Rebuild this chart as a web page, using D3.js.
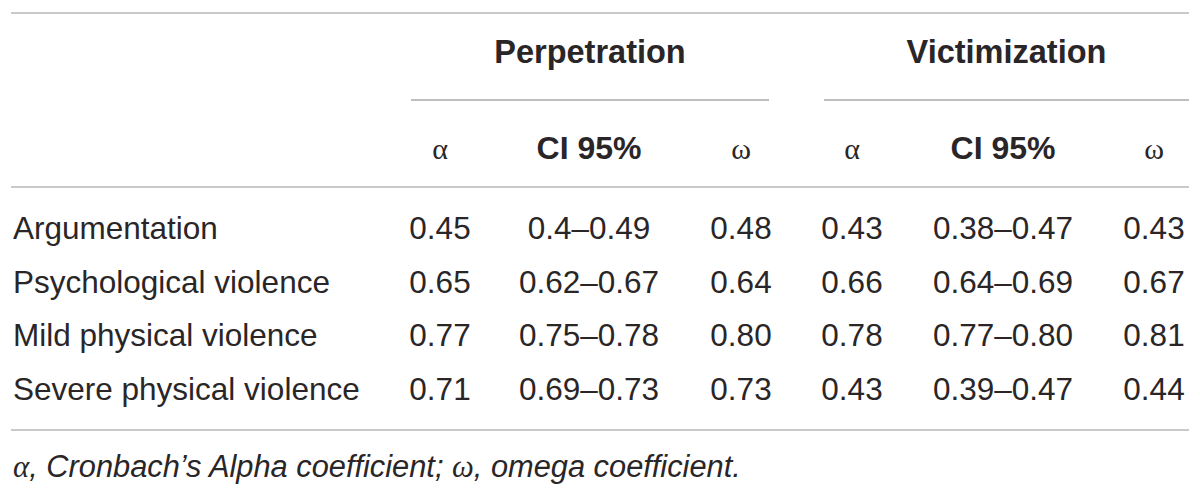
<!DOCTYPE html>
<html>
<head>
<meta charset="utf-8">
<script src="https://cdn.jsdelivr.net/npm/d3@7"></script>
<style>
  body { margin: 0; background: #fff; }
  text { font-family: "Liberation Sans", Arial, sans-serif; fill: #2a2627; }
  .greek { font-family: "Liberation Serif", "DejaVu Serif", serif; }
</style>
</head>
<body>
<div id="table"></div>
<script>
// table content
var rowLabels = ["Argumentation", "Psychological violence", "Mild physical violence", "Severe physical violence"];
var groups = ["Perpetration", "Victimization"];
var subHeads = ["α", "CI 95%", "ω", "α", "CI 95%", "ω"];
var perpAlpha = ["0.45", "0.65", "0.77", "0.71"];
var perpCI = ["0.4–0.49", "0.62–0.67", "0.75–0.78", "0.69–0.73"];
var perpOmega = ["0.48", "0.64", "0.80", "0.73"];
var victAlpha = ["0.43", "0.66", "0.78", "0.43"];
var victCI = ["0.38–0.47", "0.64–0.69", "0.77–0.80", "0.39–0.47"];
var victOmega = ["0.43", "0.67", "0.81", "0.44"];
var footnote = [["α", true], [", Cronbach’s Alpha coefficient; ", false], ["ω", true], [", omega coefficient.", false]];

var svgWidth = 1200;
var svgHeight = 493;
var fontSize = 31.5;

var svg = d3.select("#table")
  .append("svg")
  .attr("width", svgWidth)
  .attr("height", svgHeight);

var columns = [perpAlpha, perpCI, perpOmega, victAlpha, victCI, victOmega];

// column centres
var x = d3.scaleOrdinal()
  .domain(d3.range(6))
  .range([440, 589, 741, 852, 1003, 1154]);

// group spans for the header rules
var groupX = d3.scaleOrdinal().domain(groups).range([[411, 769], [824, 1189]]);

var y = d3.scaleBand()
  .domain(rowLabels)
  .range([201, 416]);

var lineColor = "#c9c9c9";

// horizontal rules
[13, 187, 430].forEach(function(ly) {
  svg.append("line")
    .attr("x1", 11).attr("x2", 1189)
    .attr("y1", ly).attr("y2", ly)
    .attr("stroke", lineColor)
    .attr("stroke-width", 2);
});

// group headers
groups.forEach(function(g) {
  var span = groupX(g);
  svg.append("text")
    .attr("x", (span[0] + span[1]) / 2)
    .attr("y", 52)
    .attr("dy", "0.35em")
    .attr("text-anchor", "middle")
    .attr("font-weight", "bold")
    .attr("font-size", 32.5)
    .text(g);
  svg.append("line")
    .attr("x1", span[0]).attr("x2", span[1])
    .attr("y1", 100).attr("y2", 100)
    .attr("stroke", "#a9a9a9")
    .attr("stroke-width", 1.5);
});

// sub headers
svg.selectAll("text.sub")
  .data(subHeads)
  .enter()
  .append("text")
  .attr("class", d => d === "CI 95%" ? "sub" : "sub greek")
  .attr("x", (d, i) => x(i))
  .attr("y", 148)
  .attr("dy", "0.35em")
  .attr("text-anchor", "middle")
  .attr("font-weight", d => d === "CI 95%" ? "bold" : "normal")
  .attr("font-size", d => d === "CI 95%" ? 32 : 30)
  .text(d => d);

// row labels
svg.selectAll("text.rowlab")
  .data(rowLabels)
  .enter()
  .append("text")
  .attr("class", "rowlab")
  .attr("x", 13)
  .attr("y", d => y(d) + y.bandwidth() / 2)
  .attr("dy", "0.35em")
  .attr("font-size", fontSize)
  .text(d => d);

// cells
columns.forEach(function(col, ci) {
  svg.selectAll("text.c" + ci)
    .data(col)
    .enter()
    .append("text")
    .attr("class", "c" + ci)
    .attr("x", x(ci))
    .attr("y", (d, i) => y(rowLabels[i]) + y.bandwidth() / 2)
    .attr("dy", "0.35em")
    .attr("text-anchor", "middle")
    .attr("font-size", fontSize)
    .text(d => d);
});

// footnote
var fn = svg.append("text")
  .attr("x", 13)
  .attr("y", 466)
  .attr("dy", "0.35em")
  .attr("font-size", 30.8)
  .attr("font-style", "italic");

fn.selectAll("tspan")
  .data(footnote)
  .enter()
  .append("tspan")
  .attr("class", d => d[1] ? "greek" : null)
  .text(d => d[0]);
</script>
</body>
</html>
